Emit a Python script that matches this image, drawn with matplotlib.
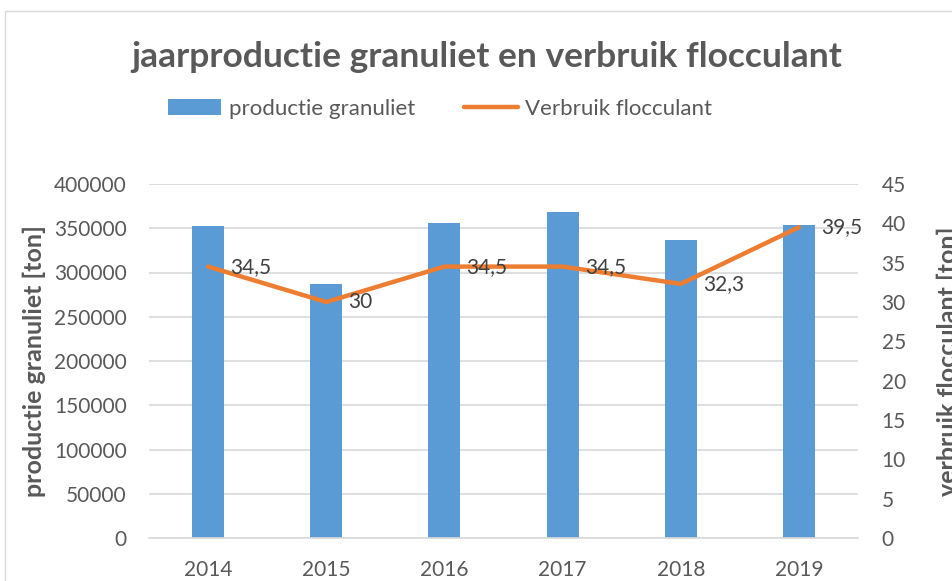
import matplotlib.pyplot as plt
from matplotlib.patches import Rectangle
import numpy as np

plt.rcParams['font.family'] = ['Lato', 'DejaVu Sans']

years = ['2014', '2015', '2016', '2017', '2018', '2019']
productie = [352500, 287000, 356000, 368500, 336500, 353500]
flocculant = [34.5, 30, 34.5, 34.5, 32.3, 39.5]
floc_labels = ['34,5', '30', '34,5', '34,5', '32,3', '39,5']

blue = '#5B9BD5'
orange = '#ED7D31'
grey_txt = '#595959'
grid_c = '#D9D9D9'

fig = plt.figure(figsize=(9.53, 5.81), dpi=100)
# chart border
fig.patches.append(Rectangle((5 / 953, -0.1), 1.2, 1 - 11 / 581 + 0.1,
                             transform=fig.transFigure, fill=False,
                             edgecolor='#D9D9D9', linewidth=1))

ax = fig.add_axes([149 / 953, 43 / 581, 709 / 953, 354 / 581])
x = np.arange(len(years))
bars = ax.bar(x, productie, width=0.27, color=blue, zorder=2,
              label='productie granuliet')
ax.set_xlim(-0.5, len(years) - 0.5)
ax.set_ylim(0, 400000)
ax.set_yticks(np.arange(0, 400001, 50000))
ax.set_xticks(x)
ax.set_xticklabels(years)
ax.grid(axis='y', color=grid_c, linewidth=1.2, zorder=0)
for s in ['top', 'left', 'right']:
    ax.spines[s].set_visible(False)
ax.spines['bottom'].set_color(grid_c)
ax.spines['bottom'].set_linewidth(1.2)
ax.tick_params(axis='y', length=0, labelsize=15, colors=grey_txt, pad=16)
ax.tick_params(axis='x', length=0, labelsize=15, colors=grey_txt, pad=16)
ax.set_ylabel('productie granuliet [ton]', fontsize=18, fontweight='bold',
              color=grey_txt, labelpad=6)

ax2 = ax.twinx()
line, = ax2.plot(x, flocculant, color=orange, linewidth=3.2, zorder=3,
                 solid_capstyle='round', label='Verbruik flocculant')
ax2.set_ylim(0, 45)
ax2.set_yticks(np.arange(0, 46, 5))
for s in ['top', 'left', 'right', 'bottom']:
    ax2.spines[s].set_visible(False)
ax2.tick_params(length=0, labelsize=15, colors=grey_txt, pad=17)
ax2.set_ylabel('verbruik flocculant [ton]', fontsize=18, fontweight='bold',
               color=grey_txt, labelpad=22)

for xi, v, lab in zip(x, flocculant, floc_labels):
    ax2.annotate(lab, (xi, v), xytext=(16, 0), textcoords='offset points',
                 ha='left', va='center', fontsize=15, color='#404040')

fig.text(0.511, 0.902, 'jaarproductie granuliet en verbruik flocculant',
         ha='center', va='center', fontsize=25.5, fontweight='bold', color=grey_txt)

fig.legend([bars, line], ['productie granuliet', 'Verbruik flocculant'],
           loc='center', bbox_to_anchor=(0.462, 0.813), ncol=2, frameon=False,
           fontsize=16, labelcolor=grey_txt, handlelength=2.4, handleheight=0.7,
           columnspacing=2.2, handletextpad=0.35)

fig.savefig('out.png', dpi=100)
